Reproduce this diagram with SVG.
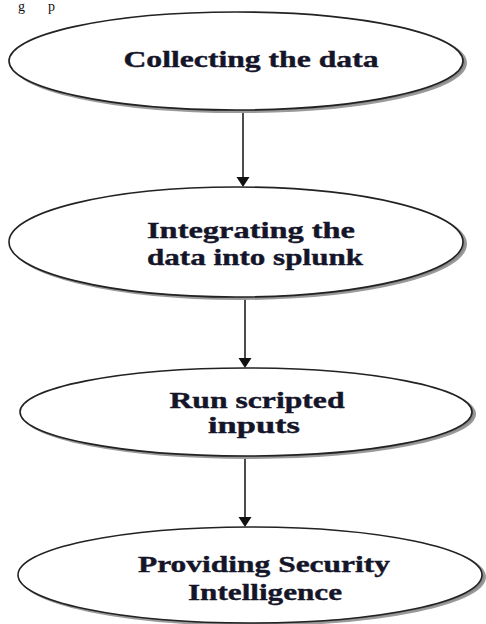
<svg xmlns="http://www.w3.org/2000/svg" width="486" height="624" viewBox="0 0 486 624">
<style>
.sh{fill:#8a8a8a;stroke:#9a9a9a;stroke-width:2}
.el{fill:#ffffff;stroke:#222222;stroke-width:1.6}
.lb{font-family:"Liberation Serif","Times New Roman",serif;font-weight:bold;font-size:24px;fill:#15152a;stroke:#15152a;stroke-width:0.4}
.edge{stroke:#111;stroke-width:1.5;fill:none}
.head{fill:#111}
</style>
<rect width="486" height="624" fill="#ffffff"/>
<text x="18" y="11" font-family="Liberation Serif, serif" font-size="14" fill="#111" textLength="37" lengthAdjust="spacing">g p</text>
<g id="connectors">
<line class="edge" x1="243" y1="111" x2="243" y2="178"/>
<polygon class="head" points="236.5,177 249.5,177 243,187"/>
<line class="edge" x1="245" y1="298" x2="245" y2="359"/>
<polygon class="head" points="238.5,358 251.5,358 245,368"/>
<line class="edge" x1="245" y1="457" x2="245" y2="518"/>
<polygon class="head" points="238.5,517 251.5,517 245,527"/>
</g>
<g id="node1">
<ellipse class="sh" cx="239" cy="63" rx="227" ry="49"/>
<ellipse class="el" cx="236" cy="61" rx="227" ry="49"/>
<text class="lb" x="123.5" y="67" textLength="255" lengthAdjust="spacingAndGlyphs">Collecting the data</text>
</g>
<g id="node2">
<ellipse class="sh" cx="239" cy="244" rx="227" ry="55"/>
<ellipse class="el" cx="236" cy="242" rx="227" ry="55"/>
<text class="lb" x="147" y="238" textLength="208" lengthAdjust="spacingAndGlyphs">Integrating the</text>
<text class="lb" x="147" y="265" textLength="216" lengthAdjust="spacingAndGlyphs">data into splunk</text>
</g>
<g id="node3">
<ellipse class="sh" cx="249" cy="414" rx="226" ry="44"/>
<ellipse class="el" cx="246" cy="412" rx="226" ry="44"/>
<text class="lb" x="169.5" y="408" textLength="175" lengthAdjust="spacingAndGlyphs">Run scripted</text>
<text class="lb" x="208" y="433" textLength="92" lengthAdjust="spacingAndGlyphs">inputs</text>
</g>
<g id="node4">
<ellipse class="sh" cx="253" cy="577" rx="232" ry="48"/>
<ellipse class="el" cx="250" cy="575" rx="232" ry="48"/>
<text class="lb" x="138" y="572" textLength="252" lengthAdjust="spacingAndGlyphs">Providing Security</text>
<text class="lb" x="188" y="600" textLength="154" lengthAdjust="spacingAndGlyphs">Intelligence</text>
</g>
</svg>
